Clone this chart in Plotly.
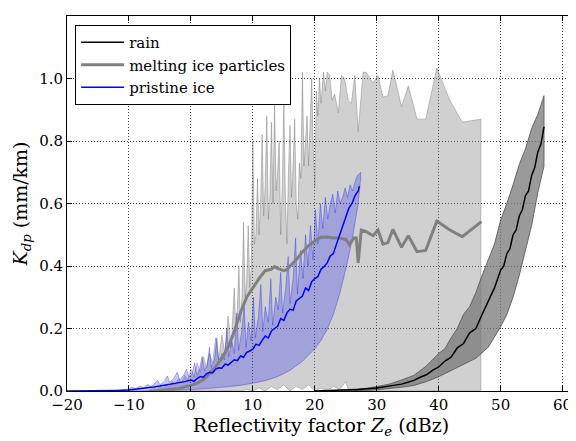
import plotly.graph_objects as go

# ---------------- data ----------------
# rain
rain_x = [20, 24, 27, 30, 32, 34, 35, 36, 37, 38, 39, 40, 41, 42, 43, 44, 45, 46, 47, 48,
          49, 50, 50.5, 51, 51.5, 52, 52.5, 53, 53.5, 54, 54.5, 55, 55.5, 56, 56.5, 57]
rain_y = [0.0, 0.002, 0.005, 0.01, 0.015, 0.022, 0.028, 0.034, 0.044, 0.052,
          0.066, 0.077, 0.096, 0.108, 0.138, 0.152, 0.186, 0.2, 0.245, 0.29,
          0.33, 0.387, 0.4, 0.44, 0.455, 0.5, 0.515, 0.56, 0.58, 0.625,
          0.64, 0.69, 0.715, 0.765, 0.79, 0.845]
rain_up_x = [22, 25, 28, 30, 32, 34, 36, 38, 40, 41, 42, 43, 44, 45, 46, 47, 48, 49, 50, 51,
             52, 53, 54, 55, 56, 57]
rain_up_y = [0.0, 0.003, 0.008, 0.014, 0.022, 0.035, 0.05, 0.08, 0.12, 0.135,
             0.17, 0.2, 0.245, 0.27, 0.315, 0.37, 0.42, 0.47, 0.547, 0.6,
             0.66, 0.725, 0.775, 0.84, 0.885, 0.945]
rain_lo_x = [24, 28, 30, 32, 34, 36, 38, 40, 42, 44, 46, 48, 50, 51, 52, 53, 54, 55, 56, 57]
rain_lo_y = [0.0, 0.002, 0.004, 0.007, 0.012, 0.018, 0.03, 0.046, 0.065, 0.085,
             0.105, 0.14, 0.206, 0.245, 0.3, 0.37, 0.45, 0.53, 0.635, 0.72]

# melting ice particles
mi_x = [-6, -4, -2, 0, 1, 2, 3, 4, 5, 6, 7, 8, 9, 10, 11, 12, 13, 13.5, 14, 15,
        15.5, 16, 17, 18, 19, 20, 21, 22, 23, 24, 25, 25.6, 26.3, 26.7, 27.0, 27.5, 28.3, 29.4, 30.2, 31.0,
        31.8, 32.6, 34.0, 35.1, 36.5, 37.9, 39.7, 41.8, 43.8, 46.9]
mi_y = [0.0, 0.003, 0.008, 0.018, 0.025, 0.037, 0.055, 0.078, 0.105, 0.14,
        0.19, 0.25, 0.3, 0.33, 0.36, 0.385, 0.39, 0.398, 0.392, 0.385,
        0.388, 0.4, 0.42, 0.445, 0.465, 0.48, 0.492, 0.493, 0.49, 0.49,
        0.485, 0.468, 0.49, 0.49, 0.41, 0.515, 0.51, 0.497, 0.515, 0.47,
        0.475, 0.517, 0.46, 0.497, 0.446, 0.45, 0.544, 0.515, 0.494, 0.542]
mi_up_x = [-7, -6, -5.5, -5, -4.5, -4, -3.5, -3, -2.5, -2,
           -1.5, -1, -0.5, 0, 0.5, 1, 1.5, 2, 2.5, 3,
           3.5, 4, 4.5, 5, 5.5, 6, 6.5,
           7.0, 7.25, 7.5, 7.75, 8.0, 8.25, 8.5, 8.75, 9.0, 9.25, 9.5, 9.75,
           10.0, 10.25, 10.5, 10.75, 11.0, 11.25, 11.5, 11.75, 12.0, 12.25, 12.5, 12.75,
           13.0, 13.25, 13.5, 13.75, 14.0, 14.25, 14.5, 14.75, 15.0, 15.25, 15.5, 15.75,
           16.0, 16.25, 16.5, 16.75, 17.0, 17.25, 17.5, 17.75, 18.0, 18.25, 18.5, 18.75,
           19.0, 19.25, 19.5, 19.75, 20.0, 20.25, 20.5, 20.75, 21.0,
           21.4, 21.7, 22.0, 22.4, 22.8, 23.2, 23.8, 24.3, 24.8, 25.4,
           25.9, 26.45, 27.0, 27.8, 28.3, 29.4, 30.2, 31.0, 31.8, 32.6,
           34.0, 35.1, 36.5, 37.9, 39.7, 41.8, 43.8, 46.8]
mi_up_y = [0.0, 0.008, 0.004, 0.015, 0.008, 0.02, 0.012, 0.03, 0.018, 0.04,
           0.025, 0.05, 0.035, 0.07, 0.045, 0.09, 0.06, 0.11, 0.075, 0.12,
           0.09, 0.17, 0.1, 0.18, 0.12, 0.24, 0.14,
           0.33, 0.2, 0.26, 0.4, 0.22, 0.3, 0.54, 0.3, 0.35, 0.53, 0.33, 0.4,
           0.8, 0.47, 0.5, 0.68, 0.5, 0.6, 0.82, 0.56, 0.66, 0.88, 0.55, 0.62,
           0.86, 0.6, 0.92, 0.64, 0.7, 0.8, 0.5, 0.65, 0.92, 0.63, 0.47, 0.7,
           0.85, 0.62, 0.72, 0.87, 0.6, 0.55, 0.73, 0.68, 1.02, 0.72, 0.8, 0.88,
           0.72, 0.85, 1.0, 0.78, 0.65, 0.96, 0.88, 1.0, 0.92,
           1.02, 0.96, 1.02, 1.01, 0.93, 0.95, 0.89, 1.01, 1.0, 0.93,
           0.92, 1.01, 0.83, 1.02, 1.02, 0.985, 1.01, 0.94, 0.945, 1.027,
           0.91, 0.976, 0.87, 0.87, 1.033, 0.93, 0.86, 0.87]
mi_lo_x = [-7, 8, 9, 10, 11, 12, 13, 14, 15, 16, 17, 18, 19, 20, 21, 22, 23, 24, 25, 25.5, 46.8]
mi_lo_y = [0, 0, 0.005, 0, 0.01, 0, 0.015, 0.004, 0.02, 0, 0.015, 0.005, 0.02, 0, 0.01, 0,
           0.015, 0.005, 0.03, 0, 0]

# pristine ice
pi_x = [-20, -18, -16, -14, -12, -10, -9, -8, -7, -6, -5, -4, -3, -2, -1,
        0, 0.5, 1, 1.5, 2, 2.5, 3, 3.5, 4, 4.5,
        5, 5.5, 6, 6.5, 7, 7.5, 8, 8.5, 9, 9.5,
        10, 10.5, 11, 11.5, 12, 12.5, 13, 13.5, 14, 14.5,
        15, 15.5, 16, 16.5, 17, 17.5, 18, 18.5, 19, 19.5,
        20, 20.5, 21, 21.5, 22, 22.5, 23, 23.5, 24, 24.5,
        25, 25.5, 26, 26.5, 27, 27.2]
pi_y = [0.0, 0.0, 0.001, 0.001, 0.002, 0.003, 0.005, 0.008, 0.01, 0.013, 0.016, 0.019, 0.023, 0.027, 0.03,
        0.035, 0.031, 0.04, 0.046, 0.044, 0.055, 0.06, 0.058, 0.07, 0.074,
        0.073, 0.086, 0.083, 0.092, 0.1, 0.097, 0.112, 0.108, 0.124, 0.128,
        0.134, 0.15, 0.146, 0.162, 0.176, 0.17, 0.192, 0.2, 0.207, 0.232,
        0.226, 0.25, 0.262, 0.258, 0.288, 0.296, 0.304, 0.33, 0.322, 0.35,
        0.36, 0.366, 0.39, 0.398, 0.41, 0.432, 0.44, 0.47, 0.5, 0.525,
        0.553, 0.585, 0.6, 0.625, 0.64, 0.655]
pi_up_x = [-12, -11, -10, -9.5, -9, -8.2, -7.6, -7, -6.5, -6,
           -5.4, -5, -4.3, -3.8, -3.4, -2.8, -2.2, -1.8, -1.2, -0.7,
           -0.3, 0.2, 0.6, 1.0, 1.4, 1.8, 2.2, 2.6, 3.0, 3.3,
           3.8, 4.2, 4.5, 5.0, 5.4, 5.8, 6.1, 6.6, 7.0, 7.4,
           7.7, 8.2, 8.6, 8.9, 9.3, 9.7, 10.1, 10.4, 10.9, 11.3,
           11.6, 12.0, 12.5, 12.9, 13.2, 13.7, 14.1, 14.5, 14.8, 15.3,
           15.7, 16.0, 16.5, 16.9, 17.2, 17.7, 18.1, 18.5, 18.9, 19.3,
           19.7, 20.1, 20.5, 20.9, 21.3, 21.7, 22.1, 22.5, 22.9, 23.3,
           23.7, 24.1, 24.5, 24.9, 25.3, 25.7, 26.1, 26.5, 26.9, 27.4]
pi_up_y = [0.002, 0.004, 0.006, 0.012, 0.007, 0.015, 0.01, 0.022, 0.014, 0.02,
           0.035, 0.02, 0.03, 0.048, 0.028, 0.04, 0.06, 0.035, 0.05, 0.07,
           0.045, 0.055, 0.09, 0.05, 0.07, 0.11, 0.065, 0.08, 0.14, 0.075,
           0.1, 0.17, 0.09, 0.12, 0.1, 0.2, 0.11, 0.16, 0.12, 0.25,
           0.13, 0.19, 0.27, 0.14, 0.22, 0.16, 0.3, 0.17, 0.24, 0.34,
           0.19, 0.27, 0.22, 0.36, 0.21, 0.3, 0.26, 0.38, 0.25, 0.33,
           0.43, 0.28, 0.36, 0.49, 0.31, 0.45, 0.36, 0.5, 0.4, 0.53,
           0.42, 0.58, 0.47, 0.6, 0.52, 0.62, 0.55, 0.6, 0.63, 0.57,
           0.64, 0.6, 0.62, 0.65, 0.62, 0.66, 0.64, 0.67, 0.69, 0.7]
pi_lo_x = [-12, -8, -4, 0, 4, 8, 10, 12, 14, 16, 18, 20, 21, 22, 23, 24, 25, 26, 26.5, 27, 27.4]
pi_lo_y = [0, 0.0005, 0.002, 0.004, 0.01, 0.018, 0.025, 0.033, 0.046, 0.066, 0.095, 0.135,
           0.162, 0.198, 0.245, 0.31, 0.39, 0.48, 0.535, 0.6, 0.68]

x_ticks = [-20, -10, 0, 10, 20, 30, 40, 50, 60]
y_ticks = [0.0, 0.2, 0.4, 0.6, 0.8, 1.0, 1.2]

FONT = "DejaVu Serif"


def band(xu, yu, xl, yl, fill, edge):
    return go.Scatter(x=list(xu) + list(xl)[::-1], y=list(yu) + list(yl)[::-1],
                      mode="lines", fill="toself", fillcolor=fill,
                      line=dict(color=edge, width=1), showlegend=False, hoverinfo="skip")


fig = go.Figure()
fig.add_trace(band(mi_up_x, mi_up_y, mi_lo_x, mi_lo_y, "rgba(128,128,128,0.37)", "rgba(110,110,110,0.4)"))
fig.add_trace(band(rain_up_x, rain_up_y, rain_lo_x, rain_lo_y, "rgba(120,120,120,0.75)", "rgba(80,80,80,0.8)"))
fig.add_trace(band(pi_up_x, pi_up_y, pi_lo_x, pi_lo_y, "rgba(0,0,255,0.22)", "rgba(0,0,255,0.3)"))

fig.add_trace(go.Scatter(x=mi_x, y=mi_y, mode="lines", name="melting ice particles",
                         line=dict(color="#808080", width=3), legendrank=2))
fig.add_trace(go.Scatter(x=pi_x, y=pi_y, mode="lines", name="pristine ice",
                         line=dict(color="#0000ff", width=1.5), legendrank=3))
fig.add_trace(go.Scatter(x=rain_x, y=rain_y, mode="lines", name="rain",
                         line=dict(color="#000000", width=1.5), legendrank=1))

axis_common = dict(showline=True, linecolor="black", linewidth=1, mirror="allticks",
                   ticks="inside", ticklen=5, tickcolor="black",
                   showgrid=True, gridcolor="rgba(0,0,0,0.75)", griddash="1px,2px", gridwidth=1,
                   zeroline=False, tickfont=dict(family=FONT, size=15, color="black"))

# the page body has an 8px margin, so the figure is sized to the visible area
fig.update_layout(
    width=568, height=433,
    margin=dict(l=59, r=1, t=8, b=50),
    paper_bgcolor="white", plot_bgcolor="white",
    font=dict(family=FONT, size=15, color="black"),
    xaxis=dict(range=[-20, 62], tickvals=x_ticks,
               title=dict(text="Reflectivity factor <i>Z</i><sub><i>e</i></sub> (dBz)",
                          font=dict(family=FONT, size=19), standoff=4),
               **axis_common),
    yaxis=dict(range=[0, 1.2], tickvals=y_ticks, tickformat=".1f",
               title=dict(text="<i>K</i><sub><i>dp</i></sub> (mm/km)",
                          font=dict(family=FONT, size=19), standoff=6),
               **axis_common),
    legend=dict(x=0.016, y=0.976, xanchor="left", yanchor="top",
                bgcolor="white", bordercolor="black", borderwidth=1,
                font=dict(family=FONT, size=15), tracegroupgap=0, itemwidth=43),
    showlegend=True,
)

fig.write_html("out.html")
